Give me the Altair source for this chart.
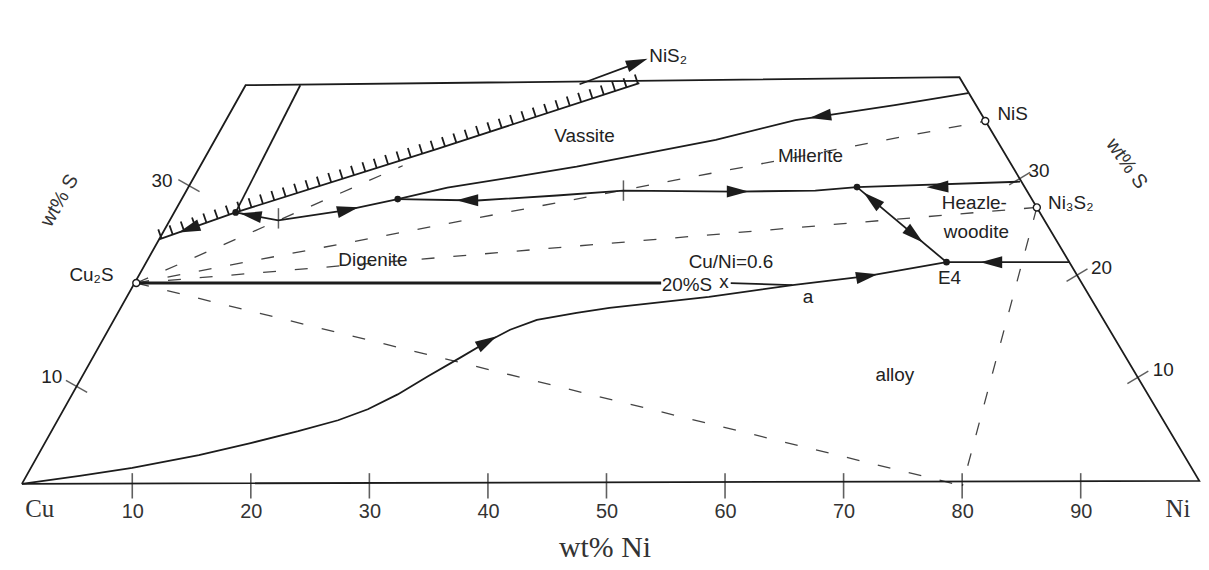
import altair as alt
import pandas as pd

# ---------------- data (x = wt% Ni along the base, y = wt% S height) ----------------
outline_x = [0.69, 19.56, 79.77, 100.0, 0.69]
outline_y = [0.3, 40.06, 40.86, 0.6, 0.3]

inner_left_x = [24.17, 18.72]
inner_left_y = [40.06, 27.37]

hatch_x = [12.26, 18.72, 35.74, 52.77]
hatch_y = [24.69, 27.37, 33.72, 40.26]

seg_left_x = [18.72, 22.32, 27.94, 32.39]
seg_left_y = [27.37, 26.58, 27.57, 28.7]

vassite_x = [32.39, 36.58, 41.87, 47.48, 53.1, 59.22, 65.93, 74.32, 80.5]
vassite_y = [28.7, 29.85, 30.84, 31.93, 33.22, 34.61, 36.59, 38.08, 39.27]

mid_x = [32.39, 39.1, 45.81, 51.43, 60.9, 67.61, 71.13]
mid_y = [28.7, 28.56, 29.06, 29.55, 29.45, 29.55, 29.9]

hz_right_x = [84.88, 71.13]
hz_right_y = [30.44, 29.9]

junc_e4_x = [71.13, 78.68]
junc_e4_y = [29.9, 22.41]

right_e4_x = [89.04, 78.68]
right_e4_y = [22.41, 22.41]

lower_x = [0.69, 5.56, 10.0, 15.62, 19.98, 24.0, 27.36, 29.87, 32.39, 34.91, 37.67,
           39.94, 41.87, 44.13, 47.48, 50.25, 58.64, 65.68, 71.97, 78.68]
lower_y = [0.3, 1.09, 1.88, 3.17, 4.36, 5.55, 6.64, 7.74, 9.22, 11.01, 12.89,
           14.48, 15.67, 16.66, 17.35, 17.85, 18.94, 20.13, 21.02, 22.41]

short_x = [60.48, 65.68]
short_y = [20.33, 20.13]

nis2_x = [47.73, 52.94]
nis2_y = [40.16, 42.44]

cu2s_line_x = [10.34, 54.61]
cu2s_line_y = [20.33, 20.33]

# dashed tie lines
d1_x, d1_y = [10.34, 32.81], [20.33, 32.03]
d2_x, d2_y = [10.34, 81.95], [20.33, 36.49]
d3_x, d3_y = [10.34, 86.3], [20.33, 27.87]
d4_x, d4_y = [10.34, 80.02], [20.33, 0.1]
d5_x, d5_y = [86.3, 80.02], [27.87, 0.1]

# ticks
base_ticks = [10, 20, 30, 40, 50, 60, 70, 80, 90]
left_tick_x, left_tick_y = [5.3, 14.78], [10.02, 30.05]
right_tick_x, right_tick_y = [84.85, 89.69, 94.82], [30.74, 21.12, 10.91]
saddle_x, saddle_y = [22.33, 51.43], [26.78, 29.55]

# arrows (position and direction of travel, degrees clockwise from east)
arrow_x = [14.78, 19.98, 28.2, 38.26, 61.07, 68.03, 77.92, 72.39, 75.99, 82.46, 39.94, 71.97, 52.6]
arrow_y = [25.74, 27.09, 27.64, 28.58, 29.45, 36.96, 29.92, 28.65, 25.08, 22.41, 14.48, 21.02, 42.32]
arrow_dir = [160.7, 190.5, 347.2, 180, 0, 171.5, 178.3, 220, 40, 180, 330.8, 350, 339.6]

# compositions
circle_x, circle_y = [10.34, 81.95, 86.3], [20.33, 36.49, 27.87]
dot_x, dot_y = [32.39, 78.68, 71.13, 18.72], [28.7, 22.41, 29.9, 27.37]

# labels
label_text = ["NiS₂", "Vassite", "Millerite", "NiS", "Ni₃S₂", "Heazle-", "woodite",
              "Digenite", "Cu₂S", "Cu/Ni=0.6", "20%S", "x", "a", "E4", "alloy",
              "30", "10", "30", "20", "10"]
label_x = [55.2, 48.15, 67.2, 84.26, 89.16, 81.03, 81.2, 30.3, 6.56, 60.5, 56.79,
           59.9, 67.0, 78.93, 74.32, 12.5, 3.21, 86.48, 91.76, 96.96]
label_y = [42.94, 35.0, 33.02, 37.16, 28.26, 28.26, 25.39, 22.61, 21.12, 22.41, 20.13,
           20.43, 18.94, 20.83, 11.2, 30.54, 11.0, 31.53, 21.82, 11.7]

axis_s_text = ["wt% S", "wt% S"]
axis_s_x = [3.88, 93.86]
axis_s_y = [28.56, 32.23]

end_text = ["Cu", "Ni"]
end_x = [2.2, 98.2]
end_y = [-2.18, -2.18]


def curves_df(curves):
    rows = []
    for name, (xs_, ys_) in curves.items():
        for i, (a, b) in enumerate(zip(xs_, ys_)):
            rows.append({"id": name, "o": i, "x": a, "y": b})
    return pd.DataFrame(rows)


solid = curves_df({
    "outline": (outline_x, outline_y),
    "inner": (inner_left_x, inner_left_y),
    "hatchline": (hatch_x, hatch_y),
    "segleft": (seg_left_x, seg_left_y),
    "vassite": (vassite_x, vassite_y),
    "mid": (mid_x, mid_y),
    "hzr": (hz_right_x, hz_right_y),
    "je4": (junc_e4_x, junc_e4_y),
    "re4": (right_e4_x, right_e4_y),
    "lower": (lower_x, lower_y),
    "short": (short_x, short_y),
    "nis2": (nis2_x, nis2_y),
})
thick = curves_df({"cu2s": (cu2s_line_x, cu2s_line_y)})
dashed = curves_df({"d1": (d1_x, d1_y), "d2": (d2_x, d2_y), "d3": (d3_x, d3_y),
                    "d4": (d4_x, d4_y), "d5": (d5_x, d5_y)})
hatch = curves_df({"h": (hatch_x, hatch_y)})

xs = alt.Scale(domain=[-0.482, 100.147], nice=False, zero=False)
ys = alt.Scale(domain=[0, 47.6], nice=False, zero=False)
xaxis = alt.Axis(values=base_ticks, title="wt% Ni", grid=False, domain=False, ticks=False,
                 labelFont="Liberation Sans", labelFontSize=20, labelColor="#333",
                 labelPadding=15, titleFont="Liberation Serif", titleFontSize=30,
                 titleFontWeight="normal", titleColor="#333", titlePadding=11)


def X(f="x"):
    return alt.X(f"{f}:Q", scale=xs, axis=xaxis)


def Y(f="y"):
    return alt.Y(f"{f}:Q", scale=ys, axis=None)


INK = "#1c1c1c"

l_solid = alt.Chart(solid).mark_line(color=INK, strokeWidth=1.8).encode(
    x=X(), y=Y(), detail="id:N", order="o:Q")
l_thick = alt.Chart(thick).mark_line(color=INK, strokeWidth=3.2).encode(
    x=X(), y=Y(), detail="id:N", order="o:Q")
l_dash = alt.Chart(dashed).mark_line(color="#444", strokeWidth=1.3, strokeDash=[13, 19]).encode(
    x=X(), y=Y(), detail="id:N", order="o:Q")
l_hatch = alt.Chart(hatch).mark_line(color=INK, strokeWidth=10, strokeDash=[1.8, 10.2],
                                     yOffset=-5).encode(
    x=X(), y=Y(), detail="id:N", order="o:Q")

TICK = "M-1,0L1,0"
bt = pd.DataFrame({"x": base_ticks, "y": [0.1] * len(base_ticks)})
l_bt = alt.Chart(bt).mark_point(shape=TICK, size=650, angle=90, color=INK, strokeWidth=1.6,
                                filled=False).encode(x=X(), y=Y())
lt = pd.DataFrame({"x": left_tick_x, "y": left_tick_y})
l_lt = alt.Chart(lt).mark_point(shape=TICK, size=600, angle=29.4, color=INK, strokeWidth=1.5,
                                filled=False).encode(x=X(), y=Y())
rt = pd.DataFrame({"x": right_tick_x, "y": right_tick_y})
l_rt = alt.Chart(rt).mark_point(shape=TICK, size=600, angle=329.2, color=INK, strokeWidth=1.5,
                                filled=False).encode(x=X(), y=Y())
sd = pd.DataFrame({"x": saddle_x, "y": saddle_y})
l_sd = alt.Chart(sd).mark_point(shape=TICK, size=420, angle=90, color=INK, strokeWidth=1.5,
                                filled=False).encode(x=X(), y=Y())

ar = pd.DataFrame({"x": arrow_x, "y": arrow_y, "a": arrow_dir})
l_ar = alt.Chart(ar).mark_point(shape="M1,0L-1,-0.55L-1,0.55Z", size=480, filled=True,
                                color=INK, opacity=1).encode(
    x=X(), y=Y(), angle=alt.Angle("a:Q", scale=None))

ci = pd.DataFrame({"x": circle_x, "y": circle_y})
l_ci = alt.Chart(ci).mark_point(shape="circle", size=50, filled=False, color=INK,
                                fill="white", fillOpacity=1, strokeWidth=1.4).encode(x=X(), y=Y())
dt = pd.DataFrame({"x": dot_x, "y": dot_y})
l_dt = alt.Chart(dt).mark_point(shape="circle", size=45, filled=True, color=INK,
                                opacity=1).encode(x=X(), y=Y())

lb = pd.DataFrame({"t": label_text, "x": label_x, "y": label_y})
l_lb = alt.Chart(lb).mark_text(font="Liberation Sans", fontSize=19, color="#222",
                               align="center", baseline="middle").encode(
    x=X(), y=Y(), text="t:N")

as_df = pd.DataFrame({"t": axis_s_text, "x": axis_s_x, "y": axis_s_y, "a": [300, 55]})
l_as = alt.Chart(as_df).mark_text(font="Liberation Sans", fontSize=20, color="#333",
                                  align="center", baseline="middle").encode(
    x=X(), y=Y(), text="t:N", angle=alt.Angle("a:Q", scale=None))

en = pd.DataFrame({"t": end_text, "x": end_x, "y": end_y})
l_en = alt.Chart(en).mark_text(font="Liberation Serif", fontSize=25, color="#333",
                               align="center", baseline="middle").encode(
    x=X(), y=Y(), text="t:N")

chart = alt.layer(
    l_dash, l_hatch, l_solid, l_thick, l_bt, l_lt, l_rt, l_sd, l_ar, l_ci, l_dt,
    l_lb, l_as, l_en
).properties(
    width=1200, height=480,
    autosize=alt.AutoSizeParams(type="none"),
    padding={"left": 0, "top": 0, "right": 0, "bottom": 80},
    background="white",
).configure_view(stroke=None)

chart.save("out.html", embed_options={"renderer": "svg", "actions": False})
